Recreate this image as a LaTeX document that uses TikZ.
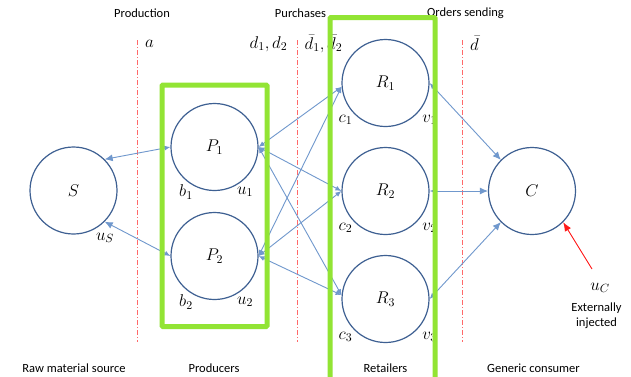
\RequirePackage{fix-cm}
\documentclass[tikz,border=0pt]{standalone}
\usepackage{fontspec}
\setmainfont{Carlito}
\usetikzlibrary{arrows.meta}
\definecolor{circblue}{RGB}{62,96,146}
\definecolor{lineblue}{RGB}{112,152,205}
\definecolor{boxgreen}{RGB}{146,228,52}
\definecolor{dashred}{RGB}{255,105,105}
\definecolor{arrred}{RGB}{255,25,25}
\newcommand\mfs{\fontsize{17}{20}\selectfont}
\newcommand\tfs{\fontsize{12.5}{15}\selectfont}
\begin{document}
\begin{tikzpicture}[x=1pt,y=-1pt,
  agent/.style={circle,draw=circblue,line width=1.2pt,minimum size=87pt,inner sep=0pt,font=\mfs},
  mlabel/.style={inner sep=0pt,font=\mfs},
  tlabel/.style={inner sep=0pt,font=\tfs,align=center},
  flow/.style={draw=lineblue,line width=0.9pt,{Latex[length=6pt,width=5pt]}-{Latex[length=6pt,width=5pt]}},
  flowS/.style={draw=lineblue,line width=0.9pt,{Latex[length=6pt,width=5pt]}-{Latex[length=8pt,width=7pt]}},
  sep/.style={draw=dashred,line width=1pt,dash pattern=on 5pt off 2pt on 1pt off 2pt},
  group/.style={draw=boxgreen,line width=5pt,rounded corners=1pt},
  inject/.style={draw=arrred,line width=0.9pt,-{Latex[length=9pt,width=7pt]}}
]
\useasboundingbox (0,0) rectangle (631,376);
\fill[white] (0,0) rectangle (631,376);

% separators
\coordinate (s1t) at (137,40); \coordinate (s1b) at (137,342);
\coordinate (s2t) at (297,40); \coordinate (s2b) at (297,342);
\coordinate (s3t) at (462,40); \coordinate (s3b) at (462,342);
\draw[sep] (s1t) -- (s1b);
\draw[sep] (s2t) -- (s2b);
\draw[sep] (s3t) -- (s3b);

% agents
\node[agent] (S)  at (73.5,190.5) {$S$};
\node[agent] (P1) at (214.5,147) {$P_1$};
\node[agent] (P2) at (214.5,256) {$P_2$};
\node[agent] (R1) at (385.5,83) {$R_1$};
\node[agent] (R2) at (385.5,191) {$R_2$};
\node[agent] (R3) at (385.5,299) {$R_3$};
\node[agent] (C)  at (532,191) {$C$};

% flows
\draw[flowS] (P1.west) -- (S.45);
\draw[flowS] (P2.west) -- (S.-45);
\draw[flow] (P1.east) -- (R1.185);
\draw[flow] (P1.east) -- (R2.west);
\draw[flow] (P1.east) -- (R3.175);
\draw[flow] (P2.east) -- (R1.185);
\draw[flow] (P2.east) -- (R2.west);
\draw[flow] (P2.east) -- (R3.175);
\draw[flowS] (R1.east) -- (C.135);
\draw[flowS] (R2.east) -- (C.west);
\draw[flowS] (R3.east) -- (C.-135);

\coordinate (ext) at (592,269);
\draw[inject] (ext) -- (C.-45);

% headings
\node[tlabel] (hProd) at (142,13) {Production};
\node[tlabel] (hPurch) at (300.5,13) {Purchases};
\node[tlabel] (hOrd) at (465.5,13) {Orders sending};
\node[mlabel] (la) at (149.5,44) {$a$};
\node[mlabel] (ld) at (268.5,44) {$d_1, d_2$};
\node[mlabel] (ldb) at (323.5,44) {$\bar{d}_1, \bar{d}_2$};
\node[mlabel] (ldbar) at (474.5,43) {$\bar{d}$};

% port labels
\node[mlabel] (b1) at (186,192) {$b_1$};
\node[mlabel] (u1) at (245,192) {$u_1$};
\node[mlabel] (b2) at (186,302) {$b_2$};
\node[mlabel] (u2) at (245,302) {$u_2$};
\node[mlabel] (uS) at (105,238) {$u_S$};
\node[mlabel] (c1) at (345.5,120) {$c_1$};
\node[mlabel] (v1) at (429.5,120) {$v_1$};
\node[mlabel] (c2) at (345.5,228) {$c_2$};
\node[mlabel] (v2) at (429.5,228) {$v_2$};
\node[mlabel] (c3) at (345.5,337) {$c_3$};
\node[mlabel] (v3) at (429.5,337) {$v_3$};
\node[mlabel] (uC) at (600,288) {$u_C$};
\node[tlabel] (extl) at (596.5,315.5) {Externally\\injected};

% bottom labels
\node[tlabel] (bS) at (74,368) {Raw material source};
\node[tlabel] (bP) at (214,368) {Producers};
\node[tlabel] (bR) at (385.5,368) {Retailers};
\node[tlabel] (bC) at (533.5,368) {Generic consumer};

% groups
\draw[group] (162,85) rectangle (267,326.5);
\draw[group] (330,17.5) rectangle (435,387.5);
\end{tikzpicture}
\end{document}
